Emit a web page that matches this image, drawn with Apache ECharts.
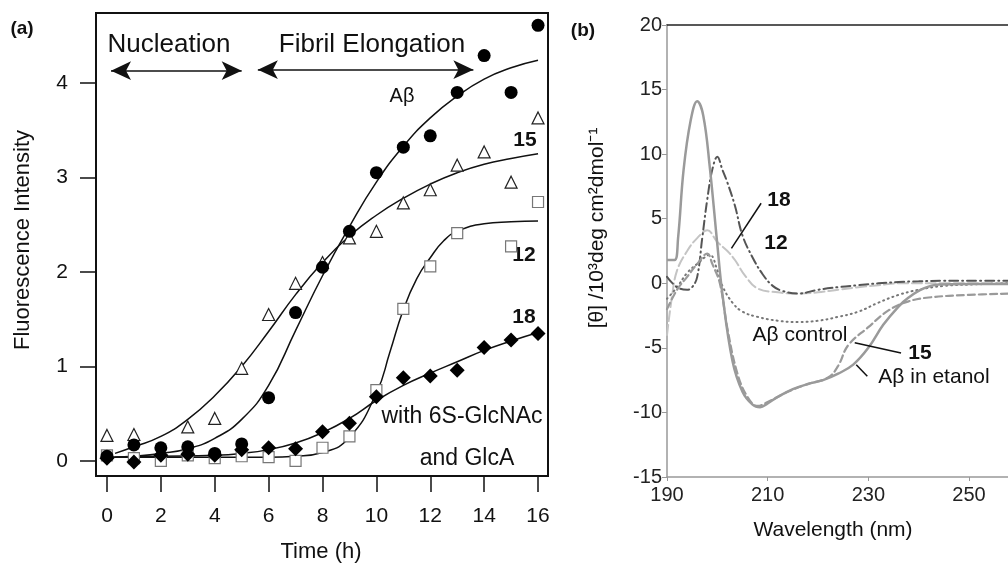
<!DOCTYPE html>
<html>
<head>
<meta charset="utf-8">
<script src="https://cdn.jsdelivr.net/npm/echarts@6/dist/echarts.min.js"></script>
<style>
  html, body { margin: 0; padding: 0; background: #fff; }
  #chart { width: 1008px; height: 564px; }
</style>
</head>
<body>
<div id="chart"></div>
<script>
// (a) thioflavin fluorescence, measured points per hour
var hours = [0, 1, 2, 3, 4, 5, 6, 7, 8, 9, 10, 11, 12, 13, 14, 15, 16];
var abPts  = [0.05, 0.17, 0.14, 0.15, 0.08, 0.18, 0.67, 1.57, 2.05, 2.43, 3.05, 3.32, 3.44, 3.9, 4.29, 3.9, 4.61];
var c15Pts = [0.27, 0.28, null, 0.36, 0.45, 0.98, 1.55, 1.88, 2.1, 2.36, 2.43, 2.73, 2.87, 3.13, 3.27, 2.95, 3.63];
var c12Pts = [0.06, 0.03, 0.0, 0.06, 0.03, 0.05, 0.04, 0.0, 0.14, 0.26, 0.75, 1.61, 2.06, 2.41, null, 2.27, 2.74];
var c18Pts = [0.03, -0.01, 0.06, 0.07, 0.06, 0.12, 0.14, 0.13, 0.31, 0.4, 0.68, 0.88, 0.9, 0.96, 1.2, 1.28, 1.35];

// (a) fitted curves
var fitAbT = [0.3, 1, 2, 3, 4, 5, 6, 7, 8, 9, 10, 11, 12, 13, 14, 15, 16];
var fitAb  = [0.04, 0.05, 0.08, 0.13, 0.24, 0.44, 0.8, 1.38, 1.96, 2.48, 2.95, 3.33, 3.63, 3.86, 4.04, 4.16, 4.24];
var fit15T = [0.3, 1, 2, 3, 4, 5, 6, 7, 8, 9, 10, 11, 12, 13, 14, 15, 16];
var fit15  = [0.08, 0.15, 0.26, 0.44, 0.69, 1.0, 1.37, 1.76, 2.1, 2.38, 2.6, 2.78, 2.93, 3.05, 3.14, 3.2, 3.25];
var fit12T = [0, 2, 4, 6, 7, 8, 9, 10, 10.5, 11, 11.5, 12, 12.5, 13, 14, 15, 16];
var fit12  = [0.04, 0.04, 0.04, 0.04, 0.05, 0.09, 0.25, 0.72, 1.15, 1.6, 1.93, 2.15, 2.33, 2.43, 2.51, 2.53, 2.54];
var fit18T = [0, 2, 4, 5, 6, 7, 8, 9, 10, 11, 12, 13, 14, 15, 16];
var fit18  = [0.04, 0.05, 0.06, 0.08, 0.12, 0.19, 0.3, 0.45, 0.64, 0.8, 0.93, 1.05, 1.17, 1.27, 1.36];

var xTicksA = [0, 2, 4, 6, 8, 10, 12, 14, 16];
var yTicksA = [0, 1, 2, 3, 4];

// (b) CD spectra
var wlEtanol = [190, 191.5, 192.2, 193.3, 194.7, 196, 197.2, 198.5, 200, 201, 203, 205, 207, 208.5, 210, 212, 215, 218, 221, 224, 227, 230, 233, 236, 238, 241, 244, 250, 258];
var etanol   = [1.8, 1.8, 3.5, 8.8, 12.6, 14.1, 13.0, 9, 3, -0.8, -6, -8.4, -9.4, -9.6, -9.3, -8.8, -8.2, -7.8, -7.5, -7.0, -6.3, -5.0, -3.2, -1.8, -1.1, -0.4, -0.1, -0.05, -0.05];
var wl15 = [190, 192, 194, 196, 198, 199, 200.5, 202, 204, 206, 208, 210, 214, 218, 222, 224, 226, 230, 234, 238, 242, 250, 258];
var cd15 = [-2, -0.5, 0.5, 1.5, 2.3, 1.5, 0, -3.5, -7, -8.8, -9.5, -9.2, -8.4, -7.8, -7.3, -6.4, -4.8, -3.4, -2.1, -1.4, -1.1, -0.9, -0.8];
var wlCtrl = [190, 192, 194, 196, 198.5, 200, 201, 203, 205, 208, 212, 216, 220, 224, 228, 232, 236, 240, 245, 250, 258];
var ctrl   = [-1.2, -0.3, 0.8, 1.5, 2.2, 1.0, -0.2, -1.5, -2.2, -2.6, -2.9, -3.0, -2.9, -2.6, -2.2, -1.5, -0.9, -0.5, -0.2, -0.1, 0];
var wl18 = [190, 192, 194, 195, 196, 197, 198, 199, 200, 201, 202, 203.5, 205, 207, 209, 211, 213, 216, 220, 224, 228, 232, 236, 240, 245, 250, 258];
var cd18 = [0.5, -0.3, -0.5, -0.3, 0.5, 3.5, 6.5, 8.8, 9.8, 8.8, 7.8, 6, 3.7, 2.0, 0.7, -0.2, -0.6, -0.8, -0.5, -0.3, -0.15, 0, 0.1, 0.15, 0.2, 0.2, 0.2];
var wl12 = [190, 191, 192, 194, 196, 198, 200, 202, 203.5, 205.5, 208, 212, 216, 220, 224, 228, 232, 236, 245, 258];
var cd12 = [-4, -1, 1, 2.5, 3.5, 4.1, 3.2, 2.5, 1.8, 0.6, -0.4, -0.7, -0.8, -0.7, -0.5, -0.3, -0.15, 0, 0, 0];

var xTicksB = [190, 210, 230, 250];

var FONT = 'Liberation Sans, Arial, sans-serif';

function pairs(xs, ys) {
    var out = [];
    for (var i = 0; i < xs.length; i++) {
        if (ys[i] !== null) out.push([xs[i], ys[i]]);
    }
    return out;
}

function txt(x, y, s, size, bold, rot) {
    return {
        type: 'text', x: x, y: y, rotation: rot || 0, silent: true,
        style: {
            text: s, fill: '#111', font: (bold ? 'bold ' : '') + size + 'px ' + FONT,
            textAlign: 'center', textVerticalAlign: 'middle'
        }
    };
}

function fitLine(xs, ys) {
    return {
        type: 'line', xAxisIndex: 0, yAxisIndex: 0, data: pairs(xs, ys),
        smooth: 0.5, showSymbol: false, z: 2,
        lineStyle: { color: '#111', width: 1.5 }
    };
}

function cdLine(xs, ys, color, width, type) {
    return {
        type: 'line', xAxisIndex: 1, yAxisIndex: 1, data: pairs(xs, ys),
        smooth: 0.4, showSymbol: false,
        lineStyle: { color: color, width: width, type: type, cap: 'round' }
    };
}

var myChart = echarts.init(document.getElementById('chart'), null, { renderer: 'canvas' });

var option = {
    animation: false,
    backgroundColor: '#fff',
    grid: [
        { left: 96, top: 13, width: 452, height: 463, show: true, borderColor: '#111', borderWidth: 2, backgroundColor: 'transparent' },
        { left: 667, top: 25, right: 0, height: 452 }
    ],
    xAxis: [
        {
            gridIndex: 0, type: 'value', min: -0.407, max: 16.37,
            axisLine: { show: false, onZero: false },
            axisTick: { show: true, customValues: xTicksA, length: 16, lineStyle: { color: '#111', width: 1.5 } },
            axisLabel: { customValues: xTicksA, margin: 30, fontSize: 21, color: '#111', fontFamily: FONT },
            splitLine: { show: false }
        },
        {
            gridIndex: 1, type: 'value', min: 190, max: 257.75,
            axisLine: { show: true, onZero: false, lineStyle: { color: '#999', width: 1.5 } },
            axisTick: { show: true, customValues: xTicksB, length: 4, lineStyle: { color: '#999' } },
            axisLabel: { customValues: xTicksB, margin: 8, fontSize: 20, color: '#222', fontFamily: FONT },
            splitLine: { show: false }
        },
        {
            gridIndex: 1, type: 'value', position: 'top', min: 190, max: 257.75,
            axisLine: { show: true, onZero: false, lineStyle: { color: '#222', width: 1.5 } },
            axisTick: { show: false }, axisLabel: { show: false }, splitLine: { show: false }
        }
    ],
    yAxis: [
        {
            gridIndex: 0, type: 'value', min: -0.159, max: 4.74,
            axisLine: { show: false, onZero: false },
            axisTick: { show: true, customValues: yTicksA, length: 16, lineStyle: { color: '#111', width: 1.5 } },
            axisLabel: { customValues: yTicksA, margin: 28, fontSize: 21, color: '#111', fontFamily: FONT },
            splitLine: { show: false }
        },
        {
            gridIndex: 1, type: 'value', min: -15, max: 20, interval: 5,
            axisLine: { show: true, onZero: false, lineStyle: { color: '#999', width: 1.5 } },
            axisTick: { show: true, length: 5, lineStyle: { color: '#999' } },
            axisLabel: { margin: 5, fontSize: 20, color: '#222', fontFamily: FONT },
            splitLine: { show: false }
        }
    ],
    series: [
        fitLine(fitAbT, fitAb),
        fitLine(fit15T, fit15),
        fitLine(fit12T, fit12),
        fitLine(fit18T, fit18),
        {
            type: 'scatter', xAxisIndex: 0, yAxisIndex: 0, data: pairs(hours, c12Pts),
            symbol: 'rect', symbolSize: 11, z: 3,
            itemStyle: { color: '#fff', borderColor: '#777', borderWidth: 1.2, opacity: 1 }
        },
        {
            type: 'scatter', xAxisIndex: 0, yAxisIndex: 0, data: pairs(hours, c15Pts),
            symbol: 'triangle', symbolSize: 12, z: 3,
            itemStyle: { color: '#fff', borderColor: '#222', borderWidth: 1.2, opacity: 1 }
        },
        {
            type: 'scatter', xAxisIndex: 0, yAxisIndex: 0, data: pairs(hours, c18Pts),
            symbol: 'diamond', symbolSize: 15, z: 4,
            itemStyle: { color: '#000', opacity: 1 }
        },
        {
            type: 'scatter', xAxisIndex: 0, yAxisIndex: 0, data: pairs(hours, abPts),
            symbol: 'circle', symbolSize: 13, z: 4,
            itemStyle: { color: '#000', opacity: 1 },
            // the two phase arrows
            markLine: {
                silent: true, symbol: ['arrow', 'arrow'], symbolSize: [14, 20],
                label: { show: false },
                lineStyle: { color: '#111', width: 1.5, type: 'solid' },
                data: [
                    [{ coord: [0.15, 4.13] }, { coord: [5.0, 4.13] }],
                    [{ coord: [5.6, 4.14] }, { coord: [13.6, 4.14] }]
                ]
            }
        },
        cdLine(wl12, cd12, '#c4c4c4', 2, [10, 4]),
        cdLine(wlCtrl, ctrl, '#777', 2, [1, 4]),
        cdLine(wl18, cd18, '#555', 2, [9, 4, 1, 4]),
        cdLine(wl15, cd15, '#9a9a9a', 2.2, [7, 4]),
        {
            type: 'line', xAxisIndex: 1, yAxisIndex: 1, data: pairs(wlEtanol, etanol),
            smooth: 0.4, showSymbol: false,
            lineStyle: { color: '#9a9a9a', width: 2.5 },
            // leader lines for the labels
            markLine: {
                silent: true, symbol: 'none', label: { show: false },
                lineStyle: { color: '#111', width: 1.5, type: 'solid' },
                data: [
                    [{ coord: [202.8, 2.7] }, { coord: [208.7, 6.2] }],
                    [{ coord: [227.3, -4.6] }, { coord: [236.5, -5.4] }],
                    [{ coord: [227.6, -6.3] }, { coord: [229.8, -7.2] }]
                ]
            }
        }
    ],
    graphic: [
        txt(22, 29, '(a)', 19, true),
        txt(583, 31, '(b)', 19, true),
        txt(23, 240, 'Fluorescence Intensity', 22, false, Math.PI / 2),
        txt(321, 552, 'Time (h)', 22),
        txt(833, 530, 'Wavelength (nm)', 21),
        txt(597, 228, '[θ] /10³deg cm²dmol⁻¹', 21, false, Math.PI / 2),
        txt(169, 45, 'Nucleation', 26),
        txt(372, 45, 'Fibril Elongation', 26),
        txt(402, 96, 'Aβ', 20),
        txt(525, 140, '15', 21, true),
        txt(524, 255, '12', 21, true),
        txt(524, 317, '18', 21, true),
        txt(462, 417, 'with 6S-GlcNAc', 23),
        txt(467, 459, 'and GlcA', 23),
        txt(779, 200, '18', 21, true),
        txt(776, 243, '12', 21, true),
        txt(800, 335, 'Aβ control', 21),
        txt(920, 353, '15', 21, true),
        txt(934, 377, 'Aβ in etanol', 21)
    ]
};

myChart.setOption(option);
window.addEventListener('resize', myChart.resize);
</script>
</body>
</html>
